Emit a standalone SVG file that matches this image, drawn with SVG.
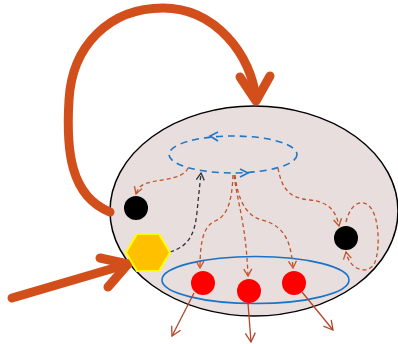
<svg xmlns="http://www.w3.org/2000/svg" width="398" height="344" viewBox="0 0 398 344">
  <defs>
    <style>
      .thick { fill: none; stroke: #d24e1a; stroke-width: 9; stroke-linecap: round; stroke-linejoin: round; }
      .flow { fill: none; stroke: #c0532b; stroke-width: 1.3; stroke-dasharray: 4 3; }
      .feed { fill: none; stroke: #333333; stroke-width: 1.3; stroke-dasharray: 4 3; }
      .out { fill: none; stroke: #b5452a; stroke-width: 1.3; }
      .cycle { fill: none; stroke: #1f77c8; stroke-width: 1.6; stroke-dasharray: 7 5; }
      .pool { fill: none; stroke: #1a73c8; stroke-width: 1.6; }
      .red { fill: #ff0000; }
      .blk { fill: #000000; }
    </style>
    <marker id="ahBrown" markerUnits="userSpaceOnUse" markerWidth="12" markerHeight="12" refX="8" refY="5" orient="auto">
      <path d="M1,1 L8,5 L1,9" fill="none" stroke="#c0532b" stroke-width="1.3"/>
    </marker>
    <marker id="ahBlack" markerUnits="userSpaceOnUse" markerWidth="12" markerHeight="12" refX="8" refY="5" orient="auto">
      <path d="M1,1 L8,5 L1,9" fill="none" stroke="#333333" stroke-width="1.3"/>
    </marker>
    <marker id="ahOut" markerUnits="userSpaceOnUse" markerWidth="14" markerHeight="14" refX="10" refY="6" orient="auto">
      <path d="M1,1 L10,6 L1,11" fill="none" stroke="#b5452a" stroke-width="1.3"/>
    </marker>
  </defs>

  <!-- cell body -->
  <g id="cell">
    <ellipse cx="254" cy="211" rx="144" ry="105" fill="#e7dedd" stroke="#000000" stroke-width="1.5"/>
  </g>

  <!-- internal cycle -->
  <g id="cycle">
    <ellipse class="cycle" cx="233" cy="154.5" rx="64" ry="18.5"/>
    <polyline points="218,132 210,136 218,141" fill="none" stroke="#1f77c8" stroke-width="1.6"/>
    <polyline points="240,169 248,173 240,177" fill="none" stroke="#1f77c8" stroke-width="1.6"/>
  </g>

  <!-- output pool -->
  <g id="pool">
    <ellipse class="pool" cx="255.5" cy="280" rx="93.5" ry="23.5"/>
  </g>

  <g id="connectors">
    <!-- recycling loop -->
    <path class="thick" d="M110,212 C70,196 66,150 69,100 C72,45 110,8 163,8 C215,8 252,55 256,100"/>
    <polyline class="thick" points="240,77 256,101 270,76"/>
    <!-- input -->
    <path class="thick" d="M12,298 L128,264"/>
    <polyline class="thick" points="100,258 128,264 108,287"/>

    <!-- dashed flows -->
    <path class="flow" d="M188,168 C182,182 152,178 141,186 C138,189 137,191 136,194" marker-end="url(#ahBrown)"/>
    <path class="feed" d="M170,252 C190,246 195,232 197,212 L201,173" marker-end="url(#ahBlack)"/>
    <path class="flow" d="M233,175 C232,200 228,216 215,221 C204,226 200,240 200,268" marker-end="url(#ahBrown)"/>
    <path class="flow" d="M234,175 C238,205 246,225 248,276" marker-end="url(#ahBrown)"/>
    <path class="flow" d="M235,175 C238,200 246,216 262,220 C285,226 291,242 293,268" marker-end="url(#ahBrown)"/>
    <path class="flow" d="M278,168 C282,190 290,198 310,200 C330,202 336,212 339,226" marker-end="url(#ahBrown)"/>
    <path class="flow" d="M346,222 C350,205 360,199 368,205 C380,214 380,250 375,262 C370,275 350,272 346,252" marker-end="url(#ahBrown)"/>

    <!-- outputs -->
    <path class="out" d="M194,293 L172,336" marker-end="url(#ahOut)"/>
    <path class="out" d="M248,303 L251,342" marker-end="url(#ahOut)"/>
    <path class="out" d="M302,292 L333,330" marker-end="url(#ahOut)"/>
  </g>

  <g id="nodeA"><circle class="blk" cx="136" cy="208" r="12"/></g>
  <g id="nodeB"><circle class="blk" cx="346" cy="238" r="12"/></g>
  <g id="hexagon">
    <polygon points="126,252.5 137,234 159,234 170,252.5 159,271 137,271" fill="#ffc000" stroke="#ffff00" stroke-width="2"/>
  </g>
  <g id="product1"><circle class="red" cx="203" cy="283" r="12"/></g>
  <g id="product2"><circle class="red" cx="249" cy="291" r="12"/></g>
  <g id="product3"><circle class="red" cx="294" cy="283" r="12"/></g>
</svg>
